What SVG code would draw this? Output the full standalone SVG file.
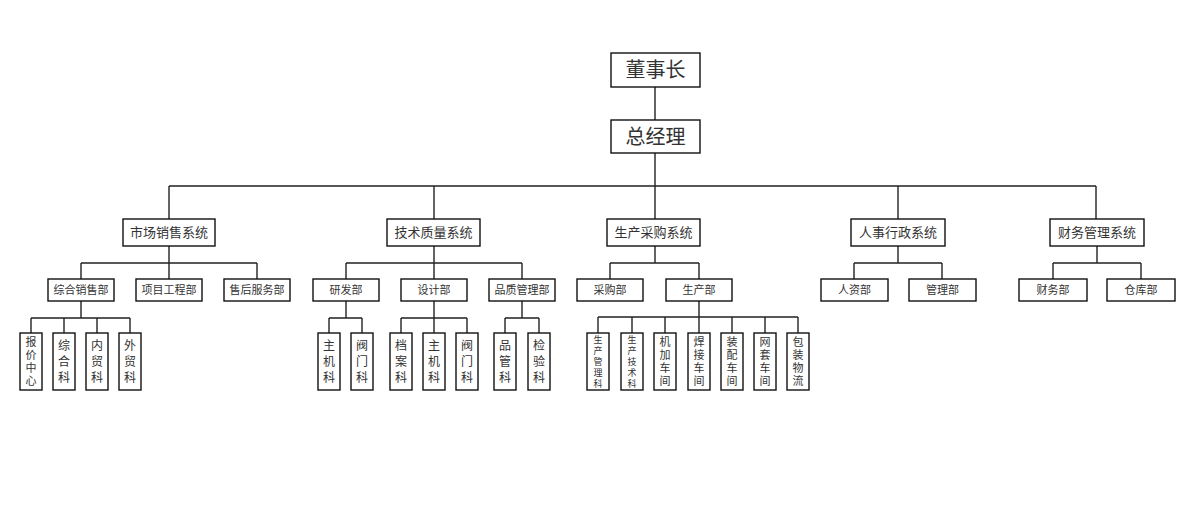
<svg xmlns="http://www.w3.org/2000/svg" width="1193" height="514" viewBox="0 0 1193 514">
<style>
rect{fill:#fff;stroke:#111;stroke-width:1.4}
text{font-family:"Liberation Serif","Noto Sans CJK SC",serif;fill:#333;text-anchor:middle;dominant-baseline:central}
.t1{font-size:20px}
.t2{font-size:13px}
.t3{font-size:11px}
.v3{font-size:12px}
.v4{font-size:11px}
.v5{font-size:9px}
#connectors path{fill:none;stroke:#222;stroke-width:1.4}
</style>
<rect x="0" y="0" width="1193" height="514" style="fill:#fff;stroke:none"/>
<g id="connectors">
<path d="M655,87V120M655,152V186M169,186H1096M169,186V219M434,186V219M655,186V219M898,186V219M1096,186V219"/>
<path d="M169,246V263M81,263H257M81,263V279M169,263V279M257,263V279"/>
<path d="M434,246V263M346,263H522M346,263V279M434,263V279M522,263V279"/>
<path d="M655,246V263M610,263H699M610,263V279M699,263V279"/>
<path d="M898,246V263M854,263H942M854,263V279M942,263V279"/>
<path d="M1097,246V263M1053,263H1141M1053,263V279M1141,263V279"/>
<path d="M81,301V318M31,318H130M31,318V333M64,318V333M97,318V333M130,318V333"/>
<path d="M346,301V318M329,318H362M329,318V333M362,318V333"/>
<path d="M434,301V318M401,318H467M401,318V333M434,318V333M467,318V333"/>
<path d="M522,301V318M505,318H539M505,318V333M539,318V333"/>
<path d="M699,301V317M598,317H798M598,317V333M632,317V333M665,317V333M699,317V333M732,317V333M765,317V333M798,317V333"/>
</g>
<g id="n-dongshizhang"><rect x="611" y="53" width="89" height="34"/><text class="t1" x="655.5" y="70">董事长</text></g>
<g id="n-zongjingli"><rect x="611" y="120" width="89" height="33"/><text class="t1" x="655.5" y="136.5">总经理</text></g>
<g id="n-scxs"><rect x="123" y="219" width="92" height="27"/><text class="t2" x="169" y="232.5">市场销售系统</text></g>
<g id="n-jszl"><rect x="387" y="219" width="93" height="27"/><text class="t2" x="433.5" y="232.5">技术质量系统</text></g>
<g id="n-sccg"><rect x="607" y="219" width="93" height="27"/><text class="t2" x="653.5" y="232.5">生产采购系统</text></g>
<g id="n-rsxz"><rect x="851" y="219" width="94" height="27"/><text class="t2" x="898" y="232.5">人事行政系统</text></g>
<g id="n-cwgl"><rect x="1050" y="219" width="94" height="27"/><text class="t2" x="1097" y="232.5">财务管理系统</text></g>
<g id="n-zhxsb"><rect x="48" y="279" width="66" height="22"/><text class="t3" x="81" y="290">综合销售部</text></g>
<g id="n-xmgcb"><rect x="136" y="279" width="66" height="22"/><text class="t3" x="169" y="290">项目工程部</text></g>
<g id="n-shfwb"><rect x="224" y="279" width="66" height="22"/><text class="t3" x="257" y="290">售后服务部</text></g>
<g id="n-yfb"><rect x="313" y="279" width="66" height="22"/><text class="t3" x="346" y="290">研发部</text></g>
<g id="n-sjb"><rect x="401" y="279" width="66" height="22"/><text class="t3" x="434" y="290">设计部</text></g>
<g id="n-pzglb"><rect x="489" y="279" width="66" height="22"/><text class="t3" x="522" y="290">品质管理部</text></g>
<g id="n-cgb"><rect x="577" y="279" width="66" height="22"/><text class="t3" x="610" y="290">采购部</text></g>
<g id="n-scb"><rect x="666" y="279" width="66" height="22"/><text class="t3" x="699" y="290">生产部</text></g>
<g id="n-rzb"><rect x="821" y="279" width="67" height="22"/><text class="t3" x="854.5" y="290">人资部</text></g>
<g id="n-glb"><rect x="909" y="279" width="67" height="22"/><text class="t3" x="942.5" y="290">管理部</text></g>
<g id="n-cwb"><rect x="1019" y="279" width="68" height="22"/><text class="t3" x="1053" y="290">财务部</text></g>
<g id="n-ckb"><rect x="1107" y="279" width="68" height="22"/><text class="t3" x="1141" y="290">仓库部</text></g>
<g id="n-bjzx"><rect x="20" y="333" width="22" height="57"/><text class="v4" x="31"><tspan x="31" y="342">报</tspan><tspan x="31" y="355">价</tspan><tspan x="31" y="368">中</tspan><tspan x="31" y="381">心</tspan></text></g>
<g id="n-zhk"><rect x="53" y="333" width="22" height="57"/><text class="v3" x="64"><tspan x="64" y="346">综</tspan><tspan x="64" y="362">合</tspan><tspan x="64" y="378">科</tspan></text></g>
<g id="n-nmk"><rect x="86" y="333" width="22" height="57"/><text class="v3" x="97"><tspan x="97" y="346">内</tspan><tspan x="97" y="362">贸</tspan><tspan x="97" y="378">科</tspan></text></g>
<g id="n-wmk"><rect x="119" y="333" width="22" height="57"/><text class="v3" x="130"><tspan x="130" y="346">外</tspan><tspan x="130" y="362">贸</tspan><tspan x="130" y="378">科</tspan></text></g>
<g id="n-zjk1"><rect x="318" y="333" width="22" height="57"/><text class="v3" x="329"><tspan x="329" y="346">主</tspan><tspan x="329" y="362">机</tspan><tspan x="329" y="378">科</tspan></text></g>
<g id="n-fmk1"><rect x="351" y="333" width="22" height="57"/><text class="v3" x="362"><tspan x="362" y="346">阀</tspan><tspan x="362" y="362">门</tspan><tspan x="362" y="378">科</tspan></text></g>
<g id="n-dak"><rect x="390" y="333" width="22" height="57"/><text class="v3" x="401"><tspan x="401" y="346">档</tspan><tspan x="401" y="362">案</tspan><tspan x="401" y="378">科</tspan></text></g>
<g id="n-zjk2"><rect x="423" y="333" width="22" height="57"/><text class="v3" x="434"><tspan x="434" y="346">主</tspan><tspan x="434" y="362">机</tspan><tspan x="434" y="378">科</tspan></text></g>
<g id="n-fmk2"><rect x="456" y="333" width="22" height="57"/><text class="v3" x="467"><tspan x="467" y="346">阀</tspan><tspan x="467" y="362">门</tspan><tspan x="467" y="378">科</tspan></text></g>
<g id="n-pgk"><rect x="494" y="333" width="22" height="57"/><text class="v3" x="505"><tspan x="505" y="346">品</tspan><tspan x="505" y="362">管</tspan><tspan x="505" y="378">科</tspan></text></g>
<g id="n-jyk"><rect x="528" y="333" width="22" height="57"/><text class="v3" x="539"><tspan x="539" y="346">检</tspan><tspan x="539" y="362">验</tspan><tspan x="539" y="378">科</tspan></text></g>
<g id="n-scglk"><rect x="587" y="333" width="22" height="57"/><text class="v5" x="598"><tspan x="598" y="340">生</tspan><tspan x="598" y="351">产</tspan><tspan x="598" y="362">管</tspan><tspan x="598" y="373">理</tspan><tspan x="598" y="384">科</tspan></text></g>
<g id="n-scjsk"><rect x="621" y="333" width="22" height="57"/><text class="v5" x="632"><tspan x="632" y="340">生</tspan><tspan x="632" y="351">产</tspan><tspan x="632" y="362">技</tspan><tspan x="632" y="373">术</tspan><tspan x="632" y="384">科</tspan></text></g>
<g id="n-jjcj"><rect x="654" y="333" width="22" height="57"/><text class="v4" x="665"><tspan x="665" y="342">机</tspan><tspan x="665" y="355">加</tspan><tspan x="665" y="368">车</tspan><tspan x="665" y="381">间</tspan></text></g>
<g id="n-hjcj"><rect x="688" y="333" width="22" height="57"/><text class="v4" x="699"><tspan x="699" y="342">焊</tspan><tspan x="699" y="355">接</tspan><tspan x="699" y="368">车</tspan><tspan x="699" y="381">间</tspan></text></g>
<g id="n-zpcj"><rect x="721" y="333" width="22" height="57"/><text class="v4" x="732"><tspan x="732" y="342">装</tspan><tspan x="732" y="355">配</tspan><tspan x="732" y="368">车</tspan><tspan x="732" y="381">间</tspan></text></g>
<g id="n-wtcj"><rect x="754" y="333" width="22" height="57"/><text class="v4" x="765"><tspan x="765" y="342">网</tspan><tspan x="765" y="355">套</tspan><tspan x="765" y="368">车</tspan><tspan x="765" y="381">间</tspan></text></g>
<g id="n-bzwl"><rect x="787" y="333" width="22" height="57"/><text class="v4" x="798"><tspan x="798" y="342">包</tspan><tspan x="798" y="355">装</tspan><tspan x="798" y="368">物</tspan><tspan x="798" y="381">流</tspan></text></g>
</svg>
